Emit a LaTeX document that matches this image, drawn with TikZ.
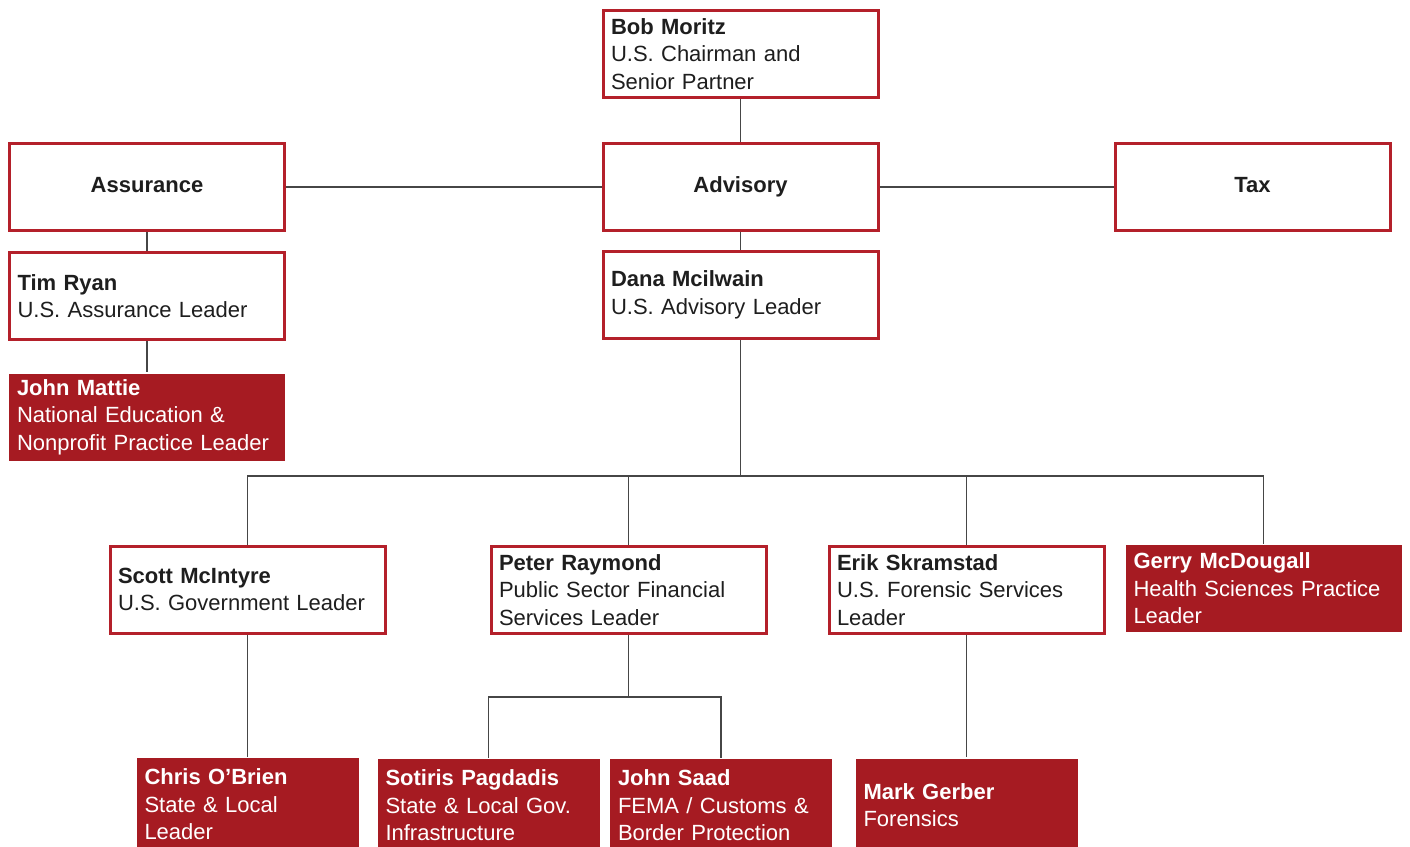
\documentclass[tikz,border=0pt]{standalone}
\usepackage{fontspec}
\setmainfont{Liberation Sans}
\usetikzlibrary{positioning}

\definecolor{boxred}{RGB}{180,32,42}
\definecolor{darkred}{RGB}{166,27,34}
\definecolor{linegray}{RGB}{70,70,70}
\definecolor{textgray}{RGB}{30,30,30}

\begin{document}
\begin{tikzpicture}[x=1pt, y=1pt,
    leader/.style={draw=boxred, line width=3pt, fill=white, text=textgray,
        minimum width=275pt, minimum height=87pt, text width=259pt,
        inner xsep=8pt, inner ysep=0pt, align=left,
        font=\fontsize{22}{27.5}\selectfont},
    unit/.style={leader, align=center, execute at begin node={\strut},
        font=\fontsize{22}{27.5}\selectfont\bfseries},
    practice/.style={leader, draw=none, fill=darkred, text=white,
        minimum width=276pt, minimum height=87pt, text width=260pt},
    member/.style={practice, minimum width=222pt, minimum height=93pt, text width=206pt},
    link/.style={draw=linegray, line width=1.5pt}]
                    \useasboundingbox (0,0) rectangle (1410,-846);
                    \clip (0,0) rectangle (1410,-846);
                    \fill[white] (0,0) rectangle (1410,-846);

                    \node [unit] (advisory) at (740.5,-187) {Advisory};
                    \node [unit] (assurance) at (147,-187) {Assurance};
                    \node [unit] (tax) at (1252.5,-187) {Tax};
                    \node [leader] [above=43pt of advisory] (bob) {{\bfseries Bob Moritz}\\U.S. Chairman and\\Senior Partner};
                    \node [leader] [below=18pt of advisory] (dana) {{\bfseries Dana Mcilwain}\\U.S. Advisory Leader};
                    \node [leader] [below=19pt of assurance] (tim) {{\bfseries Tim Ryan}\\U.S. Assurance Leader};
                    \node [practice] [below=31pt of tim] (mattie) {{\bfseries John Mattie}\\National Education \&\\Nonprofit Practice Leader};

                    \node [leader] (scott) at (247.5,-589.5) {{\bfseries Scott McIntyre}\\U.S. Government Leader};
                    \node [leader] (peter) at (628.5,-590) {{\bfseries Peter Raymond}\\Public Sector Financial\\Services Leader};
                    \node [leader] (erik) at (966.5,-590) {{\bfseries Erik Skramstad}\\U.S. Forensic Services\\Leader};
                    \node [practice] (gerry) at (1263.5,-588.5) {{\bfseries Gerry McDougall}\\Health Sciences Practice\\Leader};

                    \node [member] [below=122pt of scott] (chris) {{\bfseries Chris O'Brien}\\State \& Local\\Leader};
                    \node [member] (sotiris) at (488.5,-805.5) {{\bfseries Sotiris Pagdadis}\\State \& Local Gov.\\Infrastructure};
                    \node [member] (saad) at (721,-805.5) {{\bfseries John Saad}\\FEMA / Customs \&\\Border Protection};
                    \node [member] [below=122pt of erik] (mark) {{\bfseries Mark Gerber}\\Forensics};

                    \coordinate (bus) at (740.5,-476);
                    \coordinate (pbus) at (628.5,-697);

                    \path[link]
                    (bob) edge (advisory)
                    (assurance) edge (advisory)
                    (advisory) edge (tax)
                    (assurance) edge (tim)
                    (advisory) edge (dana)
                    (tim.south) edge (tim.south |- mattie.north)
                    (dana) edge (bus)
                    (scott) edge (chris)
                    (peter) edge (pbus)
                    (erik) edge (mark);

                    \draw[link] (bus) -| (scott.north);
                    \draw[link] (bus) -| (peter.north);
                    \draw[link] (bus) -| (erik.north);
                    \draw[link] (bus) -| (gerry.north);
                    \draw[link] (pbus) -| (sotiris.north);
                    \draw[link] (pbus) -| (saad.north);
                \end{tikzpicture}
\end{document}
